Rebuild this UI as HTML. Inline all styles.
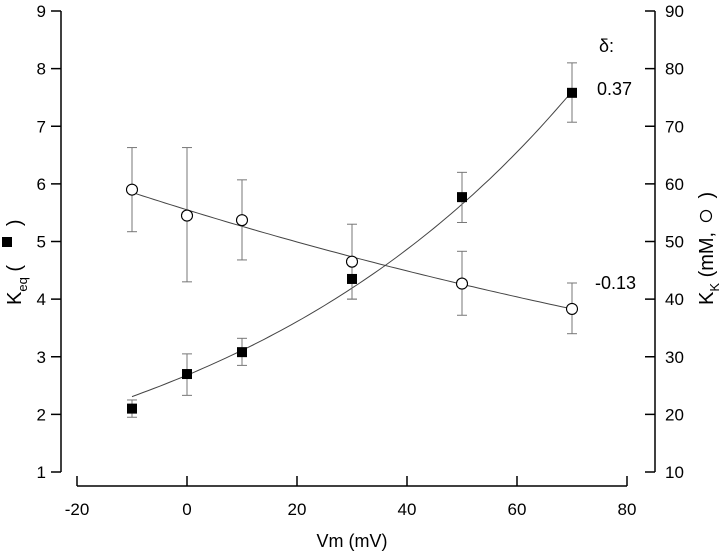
<!DOCTYPE html>
<html><head><meta charset="utf-8"><style>
html,body{margin:0;padding:0;background:#fff}
svg text{font-family:"Liberation Sans",Arial,sans-serif;fill:#000;white-space:pre}
</style></head><body>
<svg id="chart" width="720" height="554" viewBox="0 0 720 554" xmlns="http://www.w3.org/2000/svg">
<g id="axes"></g><g id="series"></g>
<text x="352" y="547" font-size="18" text-anchor="middle">Vm (mV)</text>
<g transform="translate(21,305) rotate(-90)">
<text x="0" y="0" font-size="20">K<tspan font-size="13" dy="6">eq</tspan><tspan dy="-6"> (       )</tspan></text>
</g>
<rect x="2" y="237" width="10" height="10" fill="#000"/>
<g transform="translate(713,305) rotate(-90)">
<text x="0" y="0" font-size="20">K<tspan font-size="13" dy="6">K</tspan><tspan dy="-6"> (mM,      )</tspan></text>
</g>
<circle cx="706" cy="216" r="5.5" fill="#fff" stroke="#000" stroke-width="1.2"/>
<text x="599" y="52" font-size="18">δ:</text>
<text x="597" y="95" font-size="18">0.37</text>
<text x="595" y="289" font-size="18">-0.13</text>
</svg>
<script>
const xVals=[-10,0,10,30,50,70];
const keq=[2.1,2.7,3.08,4.35,5.77,7.58];
const keqLo=[1.95,2.33,2.85,4.0,5.33,7.07];
const keqHi=[2.25,3.05,3.32,4.35,6.2,8.1];
const kk=[59,54.5,53.7,46.5,42.7,38.3];
const kkLo=[51.7,43,46.8,40,37.2,34];
const kkHi=[66.3,66.3,60.7,53,48.3,42.8];
const xTicks=[-20,0,20,40,60,80];
const yTicks=[1,2,3,4,5,6,7,8,9];
const y2Ticks=[10,20,30,40,50,60,70,80,90];
const fitKeq=[2.68,0.0149];
const fitKk=[55.5,-0.0053];
const NS="http://www.w3.org/2000/svg";
const X=v=>77+(v+20)*5.5;
const Y=v=>472-(v-1)*57.625;
const Y2=v=>Y(v/10);
function mk(t,a,p){const e=document.createElementNS(NS,t);for(const k in a)e.setAttribute(k,a[k]);p.appendChild(e);return e;}
const ax=document.getElementById('axes'),se=document.getElementById('series');
let e;
e=mk('line',{x1:61,y1:Y(9),x2:61,y2:Y(1),stroke:'#000','stroke-width':1.5},ax);

e=mk('line',{x1:655,y1:Y(9),x2:655,y2:Y(1),stroke:'#000','stroke-width':1.5},ax);

e=mk('line',{x1:X(-20),y1:486,x2:X(80),y2:486,stroke:'#000','stroke-width':1.5},ax);

yTicks.forEach(v=>{mk('line',{x1:51,x2:61,y1:Y(v),y2:Y(v),stroke:'#000','stroke-width':1.5},ax);
 e=mk('text',{x:46,y:Y(v)+6,'font-size':17,'text-anchor':'end'},ax);e.textContent=v;
 });
y2Ticks.forEach(v=>{mk('line',{x1:645,x2:655,y1:Y2(v),y2:Y2(v),stroke:'#000','stroke-width':1.5},ax);
 e=mk('text',{x:665,y:Y2(v)+6,'font-size':17},ax);e.textContent=v;
 });
xTicks.forEach(v=>{mk('line',{x1:X(v),x2:X(v),y1:476,y2:486,stroke:'#000','stroke-width':1.5},ax);
 e=mk('text',{x:X(v),y:515,'font-size':17,'text-anchor':'middle'},ax);e.textContent=v;
 });
function fit(f,sc){let d='';for(let v=-10;v<=70;v+=1){d+=(v==-10?'M':'L')+X(v).toFixed(1)+','+sc(f[0]*Math.exp(f[1]*v)).toFixed(1);}return d;}
e=mk('path',{d:fit(fitKeq,Y),fill:'none',stroke:'#444','stroke-width':1},se);

e=mk('path',{d:fit(fitKk,Y2),fill:'none',stroke:'#444','stroke-width':1},se);

function eb(x,lo,hi,name){const g=mk('g',{stroke:'#777','stroke-width':1},se);
 
 mk('line',{x1:x,x2:x,y1:lo,y2:hi},g);mk('line',{x1:x-5,x2:x+5,y1:lo,y2:lo},g);mk('line',{x1:x-5,x2:x+5,y1:hi,y2:hi},g);}
xVals.forEach((v,i)=>{eb(X(v),Y2(kkLo[i]),Y2(kkHi[i]),'kk-error-bar');eb(X(v),Y(keqLo[i]),Y(keqHi[i]),'keq-error-bar');});
xVals.forEach((v,i)=>{
 e=mk('circle',{cx:X(v),cy:Y2(kk[i]),r:5.5,fill:'#fff',stroke:'#000','stroke-width':1.1},se);
 
 e=mk('rect',{x:X(v)-5,y:Y(keq[i])-5,width:10,height:10,fill:'#000'},se);
 });
</script>
</body></html>
